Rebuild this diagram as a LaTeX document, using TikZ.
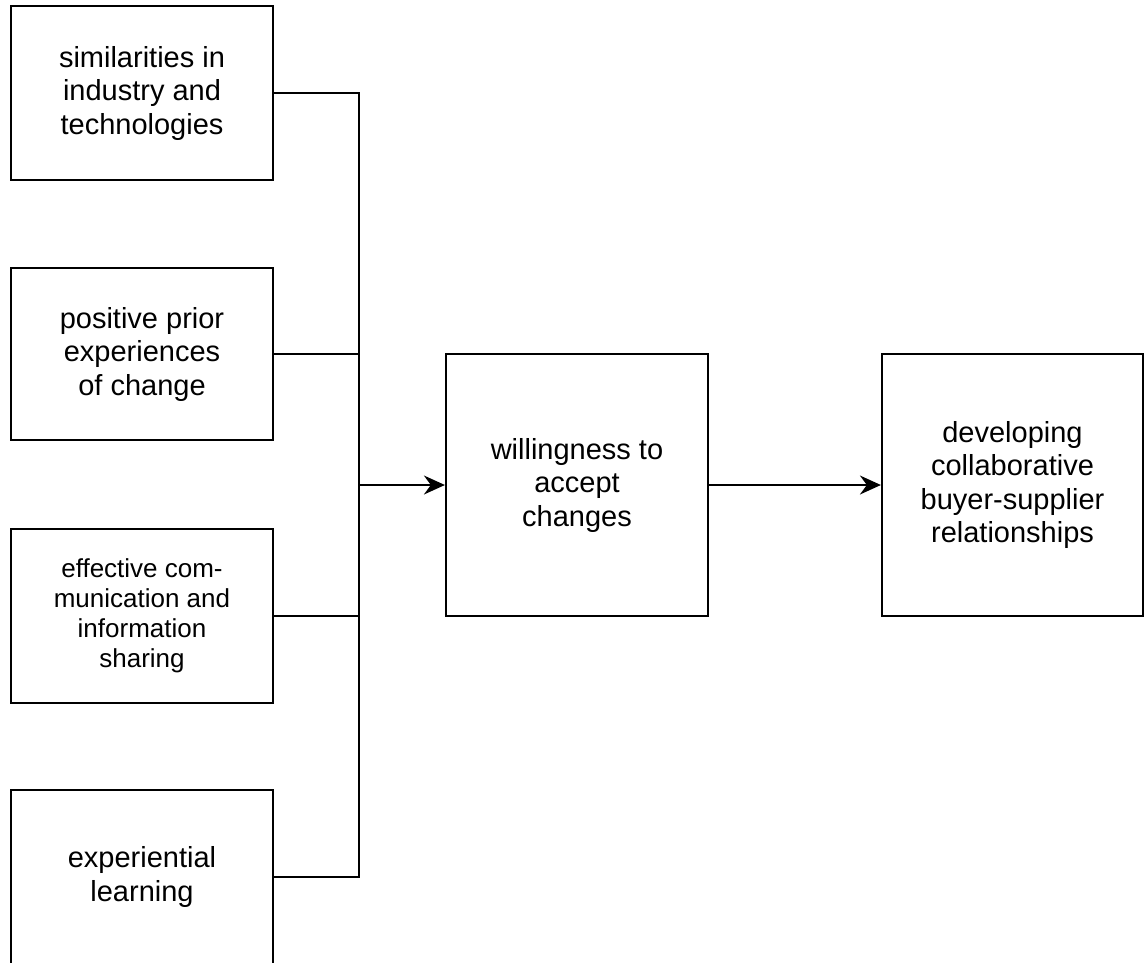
\documentclass[tikz,border=0pt]{standalone}
\usepackage{fontspec}
\setmainfont{Liberation Sans}
\usetikzlibrary{arrows.meta}
\begin{document}
\begin{tikzpicture}[x=1pt,y=-1pt,
  box/.style={draw, line width=2.2pt, align=center, inner sep=0pt,
    font=\fontsize{29}{33.5}\selectfont},
  small/.style={font=\fontsize{26}{30}\selectfont},
  link/.style={line width=2.2pt},
  flow/.style={line width=2.2pt, -{Stealth[length=21pt,width=19pt,inset=7pt]}}]
\useasboundingbox (0,0) rectangle (1144,962);

% factors on the left
\node[box, minimum width=262pt, minimum height=174pt] (f1) at (142,93)
  {similarities in\\industry and\\technologies};
\node[box, minimum width=262pt, minimum height=172pt] (f2) at (142,354)
  {positive prior\\experiences\\of change};
\node[box, small, minimum width=262pt, minimum height=174pt] (f3) at (142,616)
  {effective com-\\munication and\\information\\sharing};
\node[box, minimum width=262pt, minimum height=174pt] (f4) at (142,877)
  {experiential\\learning};

% central concept and outcome
\node[box, minimum width=262pt, minimum height=262pt] (mid) at (577,485)
  {willingness to\\accept\\changes};
\node[box, minimum width=261pt, minimum height=262pt] (out) at (1012.5,485)
  {developing\\collaborative\\buyer-supplier\\relationships};

% collecting bus
\coordinate (bus) at (359,485);
\draw[link] (f1.east) -| (bus |- f4.east) -- (f4.east);
\draw[link] (f2.east) -- (bus |- f2.east);
\draw[link] (f3.east) -- (bus |- f3.east);

% arrows
\draw[flow] (bus |- mid.west) -- (mid.west);
\draw[flow] (mid.east) -- (out.west);
\end{tikzpicture}
\end{document}
